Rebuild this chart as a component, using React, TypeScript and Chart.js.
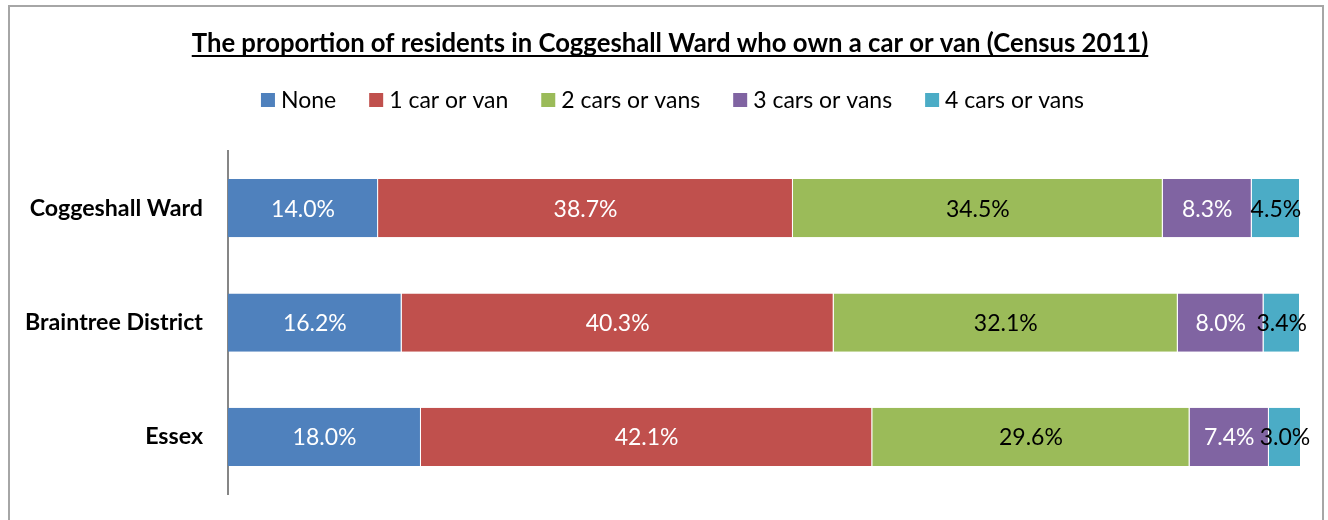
import { useEffect, useRef } from "react";
import { Chart, registerables } from "chart.js";

Chart.register(...registerables);

const chartTitle = "The proportion of residents in Coggeshall Ward who own a car or van (Census 2011)";
const categories = ["Coggeshall Ward", "Braintree District", "Essex"];
const seriesNames = ["None", "1 car or van", "2 cars or vans", "3 cars or vans", "4 cars or vans"];
const noneValues = [14.0, 16.2, 18.0];
const oneCarValues = [38.7, 40.3, 42.1];
const twoCarsValues = [34.5, 32.1, 29.6];
const threeCarsValues = [8.3, 8.0, 7.4];
const fourCarsValues = [4.5, 3.4, 3.0];
const seriesColors = ["#4F81BD", "#C0504D", "#9BBB59", "#8064A2", "#4BACC6"];
const labelColors = ["#ffffff", "#ffffff", "#000000", "#ffffff", "#000000"];

const FONT = "Lato, 'Open Sans', sans-serif";
const TITLE_SIZE = 25.7;
const LEGEND_SIZE = 23;
const LABEL_SIZE = 23;
const TICK_SIZE = 23.2;

const titleLegendPlugin = {
  id: "titleLegend",
  afterDraw(chart: any) {
    const ctx = chart.ctx as CanvasRenderingContext2D;
    ctx.save();
    // title
    ctx.font = `bold ${TITLE_SIZE}px ${FONT}`;
    ctx.fillStyle = "#000";
    ctx.textAlign = "center";
    ctx.textBaseline = "alphabetic";
    const tw = ctx.measureText(chartTitle).width;
    const cx = 660;
    ctx.fillText(chartTitle, cx, 45);
    ctx.fillRect(cx - tw / 2, 48, tw, 2);
    // legend
    ctx.font = `${LEGEND_SIZE}px ${FONT}`;
    const box = 14;
    const gapBoxText = 6;
    const gapItems = 33;
    const items = chart.data.datasets.map((d: any) => ({
      text: d.label as string,
      color: d.backgroundColor as string,
      w: ctx.measureText(d.label).width,
    }));
    let total = 0;
    items.forEach((it: any, i: number) => {
      total += box + gapBoxText + it.w + (i < items.length - 1 ? gapItems : 0);
    });
    let x = 662.5 - total / 2;
    const cy = 93;
    ctx.textAlign = "left";
    ctx.textBaseline = "middle";
    items.forEach((it: any) => {
      ctx.fillStyle = it.color;
      ctx.fillRect(x, cy - box / 2, box, box);
      x += box + gapBoxText;
      ctx.fillStyle = "#000";
      ctx.fillText(it.text, x, cy + 1);
      x += it.w + gapItems;
    });
    ctx.restore();
  },
};

const dataLabelPlugin = {
  id: "barValueLabels",
  afterDatasetsDraw(chart: any) {
    const ctx = chart.ctx as CanvasRenderingContext2D;
    ctx.save();
    ctx.font = `${LABEL_SIZE}px ${FONT}`;
    ctx.textAlign = "center";
    ctx.textBaseline = "middle";
    chart.data.datasets.forEach((ds: any, i: number) => {
      const meta = chart.getDatasetMeta(i);
      meta.data.forEach((bar: any, j: number) => {
        const { x, base, y } = bar.getProps(["x", "base", "y"], true);
        const v = ds.data[j] as number;
        ctx.fillStyle = labelColors[i];
        ctx.fillText(v.toFixed(1) + "%", (x + base) / 2, y + 1);
      });
    });
    ctx.restore();
  },
};

export default function App() {
  const canvasRef = useRef<HTMLCanvasElement | null>(null);

  useEffect(() => {
    if (!canvasRef.current) return;
    const seriesValues = [noneValues, oneCarValues, twoCarsValues, threeCarsValues, fourCarsValues];
    const chart = new Chart(canvasRef.current, {
      type: "bar",
      data: {
        labels: categories,
        datasets: seriesNames.map((name, i) => ({
          label: name,
          data: seriesValues[i],
          backgroundColor: seriesColors[i],
          borderColor: "rgba(255,255,255,0.55)",
          borderWidth: { top: 0, bottom: 0, left: 0, right: 1 },
          borderSkipped: false,
          barPercentage: 0.51,
          categoryPercentage: 1,
        })),
      },
      options: {
        indexAxis: "y",
        animation: false,
        responsive: true,
        maintainAspectRatio: false,
        layout: { padding: { top: 144, bottom: 34, left: 0, right: 22 } },
        plugins: {
          legend: { display: false },
          title: { display: false },
          tooltip: { enabled: false },
        },
        scales: {
          x: {
            stacked: true,
            min: 0,
            max: 100,
            display: false,
          },
          y: {
            stacked: true,
            grid: { display: false, drawTicks: false },
            border: { display: true, color: "#868686", width: 2 },
            ticks: {
              color: "#000",
              padding: 25,
              font: { family: FONT, size: TICK_SIZE, weight: "bold" },
            },
            afterFit(scale: any) {
              scale.width = 218;
            },
          },
        },
      },
      plugins: [dataLabelPlugin, titleLegendPlugin],
    } as any);
    return () => chart.destroy();
  }, []);

  return (
    <div
      style={{
        position: "absolute",
        left: 8,
        top: 5,
        width: 1316,
        height: 530,
        border: "2px solid #a6a6a6",
        boxSizing: "border-box",
        background: "#fff",
      }}
    >
      <div style={{ position: "relative", width: 1312, height: 526 }}>
        <canvas ref={canvasRef} />
      </div>
    </div>
  );
}
